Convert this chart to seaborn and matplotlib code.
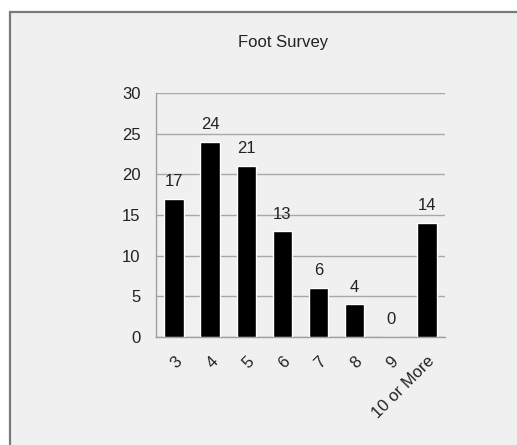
import matplotlib
matplotlib.use("Agg")
import matplotlib.pyplot as plt
from matplotlib.patches import Rectangle
from matplotlib.ticker import FixedLocator
import seaborn as sns
import pandas as pd

categories = ["3", "4", "5", "6", "7", "8", "9", "10 or More"]
counts = [17, 24, 21, 13, 6, 4, 0, 14]
y_ticks = [0, 5, 10, 15, 20, 25, 30]

sns.set_style("white")
plt.rcParams["font.family"] = ["Liberation Sans", "DejaVu Sans"]

df = pd.DataFrame({"size": categories, "count": counts})

fig = plt.figure(figsize=(5.17, 4.45), dpi=100)
fig.patch.set_facecolor("white")

# grey panel with a dark frame behind the chart
panel = Rectangle((10 / 517, -0.1), 1.2, 1 - 12 / 445 + 0.1,
                  transform=fig.transFigure, facecolor="#f0f0f0",
                  edgecolor="#7a7a7a", linewidth=1.6, zorder=-10)
fig.add_artist(panel)

ax = fig.add_axes([156 / 517, 1 - 337 / 445, (445 - 156) / 517, (337 - 93) / 445])
ax.set_facecolor("none")
ax.set_zorder(1)

sns.barplot(data=df, x="size", y="count", color="black", width=0.54,
            saturation=1, ax=ax, zorder=3)

ax.set_xlim(-0.5, len(categories) - 0.5)
ax.set_ylim(0, 30)
ax.set_yticks(y_ticks)
ax.yaxis.grid(True, color="#a8a8a8", linewidth=1.0, zorder=0)
ax.set_axisbelow(True)

for side in ["top", "right"]:
    ax.spines[side].set_visible(False)
for side in ["left", "bottom"]:
    ax.spines[side].set_color("#a0a0a0")
    ax.spines[side].set_linewidth(1.0)

ax.tick_params(axis="y", length=5, width=1, color="#a0a0a0", labelsize=12,
               labelcolor="#222222", pad=6)
ax.tick_params(axis="x", which="major", length=0, labelsize=12,
               labelcolor="#222222", pad=12)
ax.xaxis.set_minor_locator(FixedLocator([i - 0.5 for i in range(len(categories) + 1)]))
ax.tick_params(axis="x", which="minor", length=5, width=1, color="#a0a0a0")
plt.setp(ax.get_xticklabels(), rotation=45, ha="right", rotation_mode="anchor")

for container in ax.containers:
    ax.bar_label(container, labels=[str(v) for v in counts], padding=7,
                 fontsize=12, color="#222222")

ax.set_xlabel("")
ax.set_ylabel("")
fig.text(283 / 517, 1 - 42 / 445, "Foot Survey", ha="center", va="center",
         fontsize=12, color="#222222")

fig.savefig("out.png", dpi=100, facecolor=fig.get_facecolor())
